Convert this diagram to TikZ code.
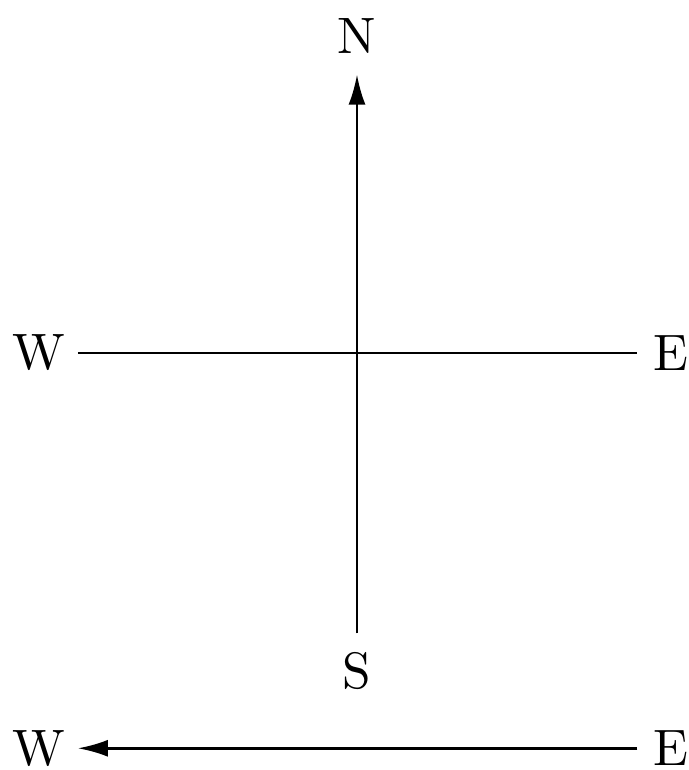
\documentclass[tikz,border=0pt]{standalone}
\usetikzlibrary{arrows.meta}
\begin{document}
\begin{tikzpicture}
		\tikzstyle{every node}=[font=\fontsize{10.2pt}{12pt}\selectfont]
		\tikzstyle{compass}=[inner xsep=2.3pt, inner ysep=4pt]
		
		\useasboundingbox (0,0) rectangle (4.823,5.39);
		
		\node[compass] (N) at (2.499,5.138) {N};
		\node[compass, inner ysep=3.6pt] (S) at (2.499,0.693) {S};
		\node[compass] (W) at (0.273,2.919) {W};
		\node[compass, inner xsep=3pt] (E) at (4.697,2.919) {E};
		\node[compass] (Wb) at (0.273,0.152) {W};
		\node[compass, inner xsep=3pt] (Eb) at (4.697,0.152) {E};
		
		\draw[line width=0.5pt, -{Latex[length=6pt, width=3.4pt]}] (S) -- (N);
		\draw[line width=0.5pt] (W) -- (E);
		\draw[line width=0.5pt, -{Latex[length=6pt, width=3.4pt]}] (Eb) -- (Wb);
		
	\end{tikzpicture}
\end{document}
